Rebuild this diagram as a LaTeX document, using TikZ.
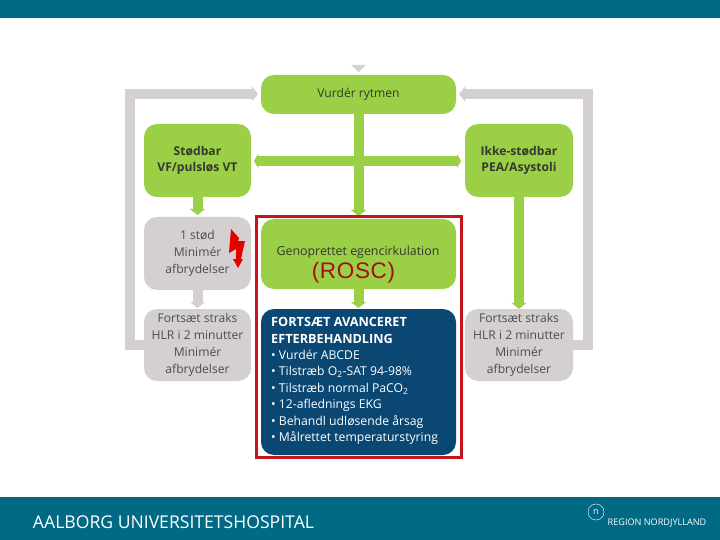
\documentclass[tikz,border=0pt]{standalone}
\usepackage{fontspec}
\setmainfont{Open Sans}
\newfontfamily\rosefont[LetterSpace=3]{Liberation Sans}
\usetikzlibrary{arrows.meta}
\definecolor{bandteal}{HTML}{006A85}
\definecolor{boxgreen}{HTML}{9BCF45}
\definecolor{boxgray}{HTML}{D4D0D0}
\definecolor{boxblue}{HTML}{0A4873}
\definecolor{framered}{HTML}{C8141C}
\definecolor{inkdark}{HTML}{333A2E}
\tikzset{
  card/.style={rounded corners=13pt,inner sep=0pt,align=center,text=inkdark,
    font=\fontsize{12.1}{16.8}\selectfont},
  greencard/.style={card,fill=boxgreen},
  graycard/.style={card,fill=boxgray,text=black!70},
  greenbar/.style={draw=boxgreen,line width=10pt,-{Triangle[length=6pt,width=15pt]}},
  graybar/.style={draw=boxgray,line width=10pt,-{Triangle[length=6pt,width=15pt]}}
}

\begin{document}
\begin{tikzpicture}[x=1pt,y=-1pt]
  \useasboundingbox (0,0) rectangle (720,540);
  \fill[bandteal] (0,0) rectangle (720,18);
  \fill[bandteal] (0,497) rectangle (720,540);
  % retur-pile bag boksene
  \coordinate (retL) at (150,345); \coordinate (retLtop) at (129.5,94); \coordinate (retLend) at (258,94);
  \coordinate (retR) at (567,345); \coordinate (retRtop) at (587.5,94); \coordinate (retRend) at (459,94);
  \draw[graybar] (retL)--(129.5,345)--(retLtop)--(retLend);
  \draw[graybar] (retR)--(587.5,345)--(retRtop)--(retRend);
  % bokse
  \node[greencard,minimum width=195pt,minimum height=39pt] (vurder) at (358.5,94.5) {Vurdér rytmen};
  \node[greencard,minimum width=107pt,minimum height=73pt,font=\fontsize{12.1}{16.6}\selectfont\bfseries] (stodbar) at (197.5,160.5) {Stødbar\\VF/pulsløs VT};
  \node[greencard,minimum width=108pt,minimum height=73pt,font=\fontsize{12.1}{16.6}\selectfont\bfseries] (ikke) at (519,160.5) {Ikke-stødbar\\PEA/Asystoli};
  \node[graycard,minimum width=107pt,minimum height=73pt] (stod) at (197.5,253.5) {1 stød\\Minimér\\afbrydelser};
  \node[graycard,minimum width=107pt,minimum height=72pt] (fortsatL) at (197.5,345) {Fortsæt straks\\HLR i 2 minutter\\Minimér\\afbrydelser};
  \node[greencard,minimum width=195pt,minimum height=70pt] (rosc) at (358.5,254) {};
  \node[graycard,minimum width=108pt,minimum height=72pt] (fortsatR) at (519,345) {Fortsæt straks\\HLR i 2 minutter\\Minimér\\afbrydelser};
  \node[card,fill=boxblue,minimum width=195pt,minimum height=146pt] (after) at (358.5,382) {};
  \node[text=white,align=left,inner sep=0pt,anchor=west,font=\fontsize{12.2}{16.4}\selectfont] (aftertxt) at (271,381) {{\fontsize{12.7}{16.4}\selectfont\bfseries FORTSÆT AVANCERET}\\{\fontsize{12.7}{16.4}\selectfont\bfseries EFTERBEHANDLING}\\• Vurdér ABCDE\\• Tilstræb O\textsubscript{2}-SAT 94-98\%\\• Tilstræb normal PaCO\textsubscript{2}\\• 12-aflednings EKG\\• Behandl udløsende årsag\\• Målrettet temperaturstyring};
  \node[text=inkdark,inner sep=0pt,font=\fontsize{12.4}{14}\selectfont] (gentxt) at (358,252) {Genoprettet egencirkulation};
  \node[text=framered!80!black,inner sep=0pt,font=\fontsize{22.5}{24}\rosefont\selectfont] (rosctxt) at (353.5,273) {(ROSC)};
  % grønne og grå pile
  \coordinate (topin) at (358.5,64); \coordinate (splitL) at (254,161); \coordinate (splitR) at (461,161); \coordinate (mid) at (358.5,161);
  \draw[greenbar] (vurder.south)--(358.5,216);
  \draw[greenbar,-{Triangle[length=4pt,width=14pt]}] (mid)--(splitL);
  \draw[greenbar,-{Triangle[length=4pt,width=14pt]}] (mid)--(splitR);
  \draw[greenbar] (stodbar.south)--(197.5,215);
  \draw[greenbar] (ikke.south)--(fortsatR.north);
  \draw[greenbar] (rosc.south)--(358.5,308);
  \draw[graybar] (stod.south)--(197.5,308);
  \fill[boxgray] (351,65)--(366,65)--(358.5,72)--cycle;
  % ramme og lyn
  \draw[framered,line width=3pt] (256.5,216.5) rectangle (461,457.5);
  \fill[red!90!black] (231,229)--(239,238)--(238,241)--(245,241)--(241,259)--(243,259)--(238,268)--(233,259)--(236,259)--(236,249)--(229,253)--cycle;
  % bundlinje
  \node[text=white,inner sep=0pt,font=\fontsize{17.6}{20}\selectfont] (hospital) at (173.5,522) {AALBORG UNIVERSITETSHOSPITAL};
  \node[text=white,inner sep=0pt,font=\fontsize{9.1}{10}\selectfont] (region) at (657,523) {REGION NORDJYLLAND};
  \node[draw=white,circle,text=white,inner sep=0pt,minimum size=16pt,font=\fontsize{9}{9}\selectfont] (logo) at (596,512) {n};
\end{tikzpicture}
\end{document}
